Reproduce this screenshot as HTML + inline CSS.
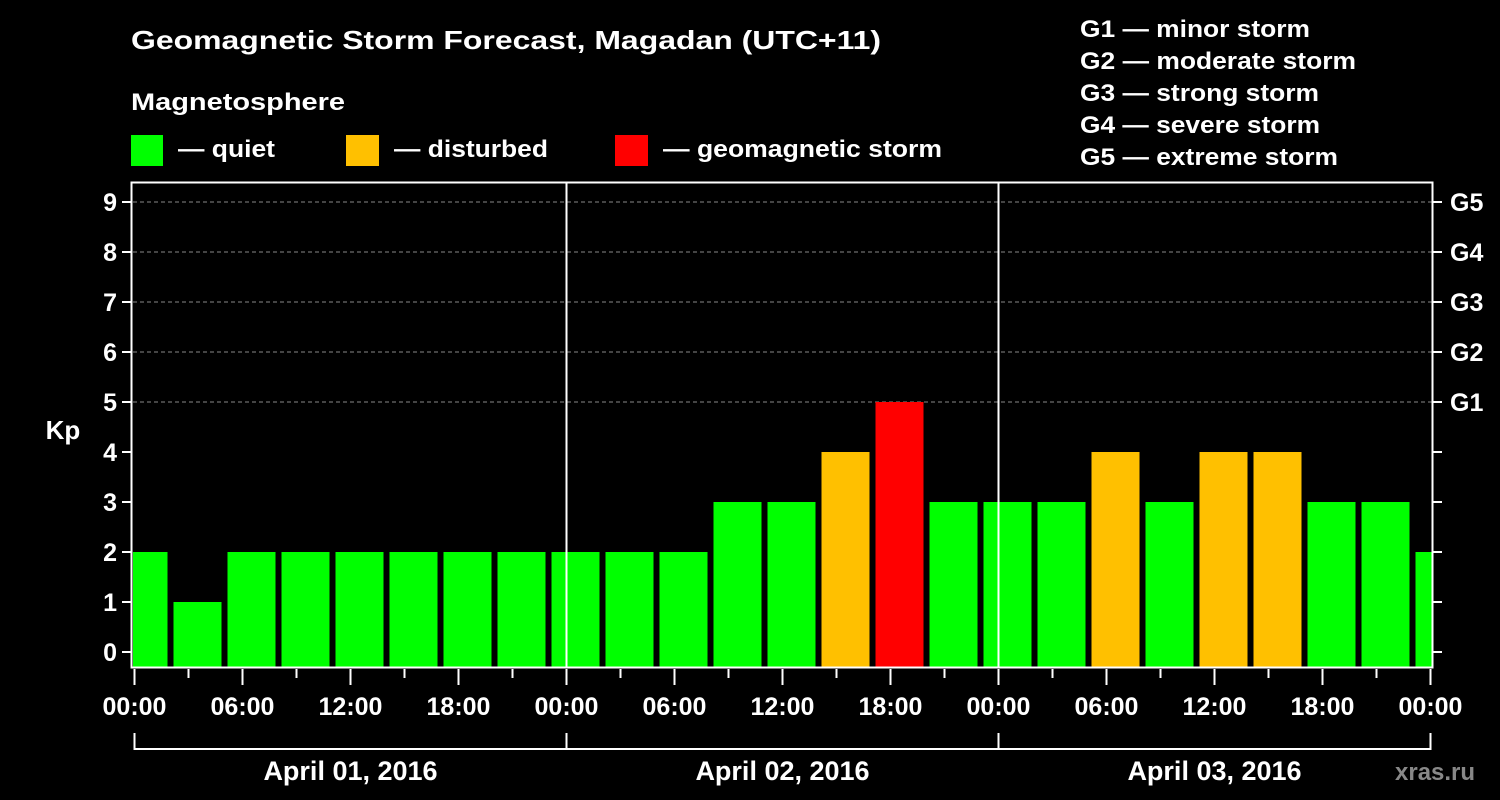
<!DOCTYPE html>
<html><head><meta charset="utf-8"><style>
html,body{margin:0;padding:0;background:#000;}
svg{display:block;font-family:"Liberation Sans",Arial,sans-serif;font-weight:bold;}
</style></head><body>
<svg id="chart" width="1500" height="800" viewBox="0 0 1500 800">
<rect width="1500" height="800" fill="#000"/>
<text x="131" y="49" fill="#fff" font-size="26" textLength="750" lengthAdjust="spacingAndGlyphs">Geomagnetic Storm Forecast, Magadan (UTC+11)</text>
<text x="131" y="110" fill="#fff" font-size="24" textLength="214" lengthAdjust="spacingAndGlyphs">Magnetosphere</text>
<g><rect x="131" y="135" width="32" height="31" fill="#00ff00"/><text x="178" y="157" fill="#fff" font-size="24" textLength="97" lengthAdjust="spacingAndGlyphs">— quiet</text></g>
<g><rect x="346" y="135" width="33" height="31" fill="#ffc000"/><text x="394" y="157" fill="#fff" font-size="24" textLength="154" lengthAdjust="spacingAndGlyphs">— disturbed</text></g>
<g><rect x="615" y="135" width="33" height="31" fill="#ff0000"/><text x="663" y="157" fill="#fff" font-size="24" textLength="279" lengthAdjust="spacingAndGlyphs">— geomagnetic storm</text></g>
<g fill="#fff" font-size="24">
<text x="1080" y="37" textLength="230" lengthAdjust="spacingAndGlyphs">G1 — minor storm</text>
<text x="1080" y="69" textLength="276" lengthAdjust="spacingAndGlyphs">G2 — moderate storm</text>
<text x="1080" y="101" textLength="239" lengthAdjust="spacingAndGlyphs">G3 — strong storm</text>
<text x="1080" y="133" textLength="240" lengthAdjust="spacingAndGlyphs">G4 — severe storm</text>
<text x="1080" y="165" textLength="258" lengthAdjust="spacingAndGlyphs">G5 — extreme storm</text>
</g>
<text x="63" y="439" fill="#fff" font-size="26" text-anchor="middle">Kp</text>
<text x="1395" y="780" fill="#888" font-size="24">xras.ru</text>
<defs><clipPath id="pc"><rect x="133" y="183" width="1299" height="484"/></clipPath></defs>
<g id="grid"></g>
<g id="bars" clip-path="url(#pc)"></g>
<g id="axes"></g>
</svg>
<script>
const kpValues=[2,1,2,2,2,2,2,2,2,2,2,3,3,4,5,3,3,3,4,3,4,4,3,3,2];
const kpLevels=["quiet","quiet","quiet","quiet","quiet","quiet","quiet","quiet","quiet","quiet","quiet","quiet","quiet","disturbed","storm","quiet","quiet","quiet","disturbed","quiet","disturbed","disturbed","quiet","quiet","quiet"];
const yTicks=[0,1,2,3,4,5,6,7,8,9];
const gLabels=["G1","G2","G3","G4","G5"];
const xTickLabels=["00:00","06:00","12:00","18:00","00:00","06:00","12:00","18:00","00:00","06:00","12:00","18:00","00:00"];
const dayLabels=["April 01, 2016","April 02, 2016","April 03, 2016"];
const NS="http://www.w3.org/2000/svg";
const X=h=>134.5+18*h, Y=v=>652-50*v;
const colors={quiet:"#00ff00",disturbed:"#ffc000",storm:"#ff0000"};
function mk(tag,attrs,parent,txt){const e=document.createElementNS(NS,tag);for(const k in attrs)e.setAttribute(k,attrs[k]);if(txt!=null)e.textContent=txt;parent.appendChild(e);return e;}
const grid=document.getElementById('grid'),bars=document.getElementById('bars'),axes=document.getElementById('axes');
[5,6,7,8,9].forEach(v=>{const l=mk('line',{x1:133,x2:1432,y1:Y(v),y2:Y(v),stroke:'#888','stroke-dasharray':'4,3','stroke-width':1},grid);

});
kpValues.forEach((v,i)=>{const t=-1+3*i;const r=mk('rect',{x:X(t)+3,y:Y(v),width:48,height:668-Y(v),fill:colors[kpLevels[i]]},bars);

});
[24,48].forEach(h=>{const l=mk('line',{x1:X(h),x2:X(h),y1:182,y2:668,stroke:'#fff','stroke-width':2},axes);

});
const fr=mk('rect',{x:131.5,y:182.5,width:1301,height:485,fill:'none',stroke:'#fff','stroke-width':2},axes);


yTicks.forEach(v=>{mk('line',{x1:122,x2:131,y1:Y(v),y2:Y(v),stroke:'#fff','stroke-width':2},axes);
mk('line',{x1:1433,x2:1442,y1:Y(v),y2:Y(v),stroke:'#fff','stroke-width':2},axes);
const t=mk('text',{x:117,y:Y(v)+9,fill:'#fff','font-size':25,'text-anchor':'end'},axes,String(v));

});
gLabels.forEach((g,i)=>{const t=mk('text',{x:1450,y:Y(5+i)+9,fill:'#fff','font-size':25},axes,g);

});
for(let h=0;h<=72;h+=3){mk('line',{x1:X(h),x2:X(h),y1:669,y2:h%6==0?685:678,stroke:'#fff','stroke-width':2},axes);}
xTickLabels.forEach((s,i)=>{const t=mk('text',{x:X(6*i),y:715,fill:'#fff','font-size':25,'text-anchor':'middle'},axes,s);

});
const br=mk('path',{d:`M${X(0)},733V749H${X(72)}V733M${X(24)},733V749M${X(48)},733V749`,fill:'none',stroke:'#fff','stroke-width':2},axes);


dayLabels.forEach((s,i)=>{const t=mk('text',{x:X(24*i+12),y:780,fill:'#fff','font-size':27,'text-anchor':'middle'},axes,s);

});
</script>
</body></html>
